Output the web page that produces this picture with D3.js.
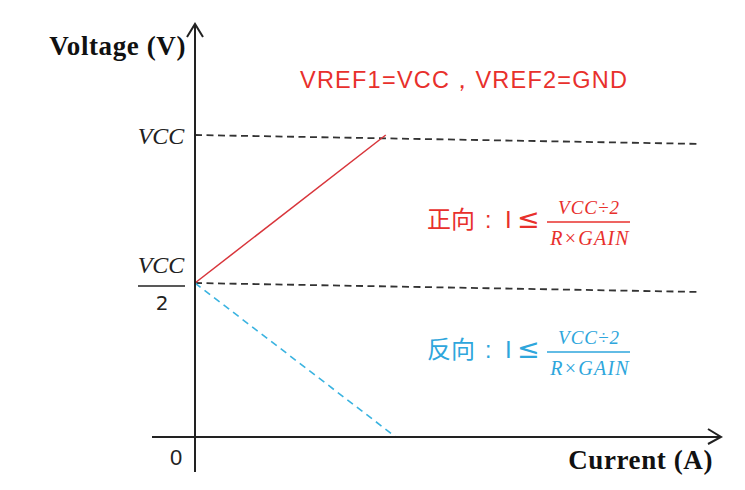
<!DOCTYPE html>
<html>
<head>
<meta charset="utf-8">
<script src="https://cdn.jsdelivr.net/npm/d3@7"></script>
<style>
  body { margin: 0; background: #fff; }
  svg { display: block; }
</style>
</head>
<body>
<div id="chart"></div>
<script>
// data: voltage in units of VCC, current in arbitrary units
var vccGuide = [{i: 0, v: 1}, {i: 10, v: 0.97}];
var halfGuide = [{i: 0, v: 0.5}, {i: 10, v: 0.471}];
var forwardLine = [{i: 0, v: 0.5}, {i: 3.8, v: 1}];
var reverseLine = [{i: 0, v: 0.5}, {i: 4.0, v: 0}];
var yTickLabels = ["VCC", "VCC/2", "0"];
var yTickValues = [1, 0.5, 0];

var width = 745,
	height = 490;

var x = d3.scaleLinear().domain([0, 10]).range([195, 697]);
var y = d3.scaleLinear().domain([0, 0.5, 1]).range([437, 283, 135]);

var svg = d3.select("#chart")
	.append("svg")
	.attr("width", width)
	.attr("height", height);

var line = d3.line()
	.x(function(d) { return x(d.i); })
	.y(function(d) { return y(d.v); });

// guide lines
svg.selectAll(".guide")
	.data([vccGuide, halfGuide])
	.enter()
	.append("path")
	.attr("class", "guide")
	.attr("d", line)
	.attr("fill", "none")
	.attr("stroke", "#333")
	.attr("stroke-width", 1.8)
	.attr("stroke-dasharray", "7,4.5");

// forward (red) and reverse (blue)
svg.append("path")
	.attr("d", line(forwardLine))
	.attr("fill", "none")
	.attr("stroke", "#d8353b")
	.attr("stroke-width", 1.5);

svg.append("path")
	.attr("d", line(reverseLine))
	.attr("fill", "none")
	.attr("stroke", "#3ab3e0")
	.attr("stroke-width", 1.6)
	.attr("stroke-dasharray", "7,5");

// axes
var axisColor = "#222";
svg.append("line")
	.attr("x1", x(0)).attr("x2", x(0))
	.attr("y1", y(0) + 35).attr("y2", 25)
	.attr("stroke", axisColor).attr("stroke-width", 2);
svg.append("path")
	.attr("d", "M" + (x(0) - 8) + ",37L" + x(0) + ",24L" + (x(0) + 8) + ",37")
	.attr("fill", "none").attr("stroke", axisColor).attr("stroke-width", 2);

svg.append("line")
	.attr("x1", 152).attr("x2", 720)
	.attr("y1", y(0)).attr("y2", y(0))
	.attr("stroke", axisColor).attr("stroke-width", 2);
svg.append("path")
	.attr("d", "M708," + (y(0) - 8) + "L721," + y(0) + "L708," + (y(0) + 7))
	.attr("fill", "none").attr("stroke", axisColor).attr("stroke-width", 2);

// axis titles
svg.append("text")
	.text("Voltage (V)")
	.attr("x", 186)
	.attr("y", 55)
	.attr("text-anchor", "end")
	.attr("font-family", "Liberation Serif, serif")
	.attr("font-weight", "bold")
	.attr("font-size", "27px")
	.attr("letter-spacing", "0.6px")
	.attr("fill", "#111");

svg.append("text")
	.text("Current (A)")
	.attr("x", 713)
	.attr("y", 469)
	.attr("text-anchor", "end")
	.attr("font-family", "Liberation Serif, serif")
	.attr("font-weight", "bold")
	.attr("font-size", "27px")
	.attr("letter-spacing", "0.6px")
	.attr("fill", "#111");

// y tick labels
svg.append("text")
	.text(yTickLabels[0])
	.attr("x", 161)
	.attr("y", y(yTickValues[0]) + 9)
	.attr("text-anchor", "middle")
	.attr("font-family", "Liberation Serif, serif")
	.attr("font-style", "italic")
	.attr("font-size", "24px")
	.attr("fill", "#222");

var half = yTickLabels[1].split("/");
svg.append("text")
	.text(half[0])
	.attr("x", 161)
	.attr("y", y(yTickValues[1]) - 10)
	.attr("text-anchor", "middle")
	.attr("font-family", "Liberation Serif, serif")
	.attr("font-style", "italic")
	.attr("font-size", "24px")
	.attr("fill", "#222");
svg.append("line")
	.attr("x1", 138).attr("x2", 185)
	.attr("y1", y(yTickValues[1]) + 3).attr("y2", y(yTickValues[1]) + 3)
	.attr("stroke", "#222").attr("stroke-width", 1.5);
svg.append("text")
	.text(half[1])
	.attr("x", 162)
	.attr("y", y(yTickValues[1]) + 27)
	.attr("text-anchor", "middle")
	.attr("font-family", "DejaVu Sans, sans-serif")
	.attr("font-size", "20px")
	.attr("fill", "#222");

svg.append("text")
	.text(yTickLabels[2])
	.attr("x", 176)
	.attr("y", y(yTickValues[2]) + 28)
	.attr("text-anchor", "middle")
	.attr("font-family", "Liberation Sans, sans-serif")
	.attr("font-size", "22px")
	.attr("fill", "#222");

// header note
svg.append("text")
	.text("VREF1=VCC，VREF2=GND")
	.attr("x", 300)
	.attr("y", 88)
	.attr("textLength", 327)
	.attr("font-family", "Liberation Sans, sans-serif")
	.attr("font-size", "23.5px")
	.attr("fill", "#e8302c");

// condition annotations
function condition(label, top, color) {
	var g = svg.append("g").attr("fill", color);
	var base = top + 37;
	g.append("text")
		.text(label)
		.attr("x", 427)
		.attr("y", base)
		.attr("font-family", "Noto Sans CJK SC, sans-serif")
		.attr("font-size", "24px");
	g.append("text")
		.text(":")
		.attr("x", 485)
		.attr("y", base)
		.attr("font-family", "Liberation Sans, sans-serif")
		.attr("font-size", "23px");
	g.append("text")
		.text("I")
		.attr("x", 505)
		.attr("y", base)
		.attr("font-family", "Liberation Sans, sans-serif")
		.attr("font-size", "24px");
	g.append("text")
		.text("≤")
		.attr("x", 517)
		.attr("y", base)
		.attr("font-family", "DejaVu Sans, sans-serif")
		.attr("font-size", "27px");
	g.append("text")
		.text("VCC÷2")
		.attr("x", 589)
		.attr("y", top + 23)
		.attr("text-anchor", "middle")
		.attr("font-family", "Liberation Serif, serif")
		.attr("font-style", "italic")
		.attr("font-size", "19px")
		.attr("letter-spacing", "1px");
	g.append("line")
		.attr("x1", 547).attr("x2", 630)
		.attr("y1", top + 31).attr("y2", top + 31)
		.attr("stroke", color).attr("stroke-width", 1.3);
	g.append("text")
		.text("R×GAIN")
		.attr("x", 590)
		.attr("y", top + 54)
		.attr("text-anchor", "middle")
		.attr("font-family", "Liberation Serif, serif")
		.attr("font-style", "italic")
		.attr("font-size", "20px")
		.attr("letter-spacing", "1.2px");
}
condition("正向", 191, "#e8302c");
condition("反向", 321, "#2ea6dc");
</script>
</body>
</html>
